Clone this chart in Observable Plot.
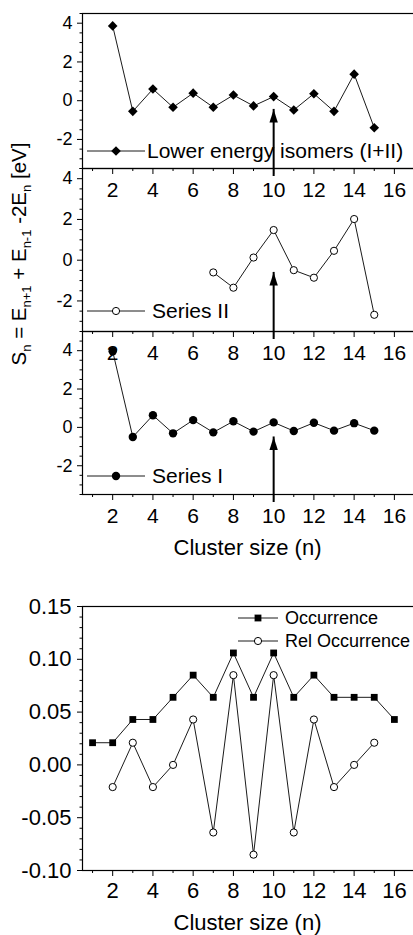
<!DOCTYPE html>
<html>
<head>
<meta charset="utf-8">
<script src="https://cdn.jsdelivr.net/npm/d3@7"></script>
<script src="https://cdn.jsdelivr.net/npm/@observablehq/plot@0.6"></script>
<style>
  html, body { margin: 0; padding: 0; background: #fff; overflow: hidden; }
  #root { position: relative; width: 413px; height: 935px; overflow: hidden;
          font-family: "Liberation Sans", Arial, sans-serif; color: #000; }
  .xtitle { position: absolute; left: 82px; width: 331px; text-align: center;
            font-size: 22px; line-height: 1; white-space: nowrap; }
  .ytitle { position: absolute; white-space: nowrap; font-size: 20.5px; line-height: 1;
            transform: translate(-50%, -50%) rotate(-90deg); }
  .ytitle sub { font-size: 13px; vertical-align: -5px; }
</style>
</head>
<body>
<div id="root"></div>
<script>
// ---------------- data ----------------
const nLower = [2, 3, 4, 5, 6, 7, 8, 9, 10, 11, 12, 13, 14, 15];
const lowerEnergy = [3.86, -0.55, 0.60, -0.34, 0.39, -0.34, 0.29, -0.27, 0.21, -0.48, 0.36, -0.55, 1.37, -1.40];

const nSeriesII = [7, 8, 9, 10, 11, 12, 13, 14, 15];
const seriesII = [-0.60, -1.35, 0.13, 1.48, -0.49, -0.86, 0.46, 2.02, -2.68];

const nSeriesI = [2, 3, 4, 5, 6, 7, 8, 9, 10, 11, 12, 13, 14, 15];
const seriesI = [3.97, -0.50, 0.63, -0.31, 0.38, -0.26, 0.32, -0.22, 0.26, -0.19, 0.24, -0.17, 0.22, -0.17];

const nOccurrence = [1, 2, 3, 4, 5, 6, 7, 8, 9, 10, 11, 12, 13, 14, 15, 16];
const occurrence = [0.021, 0.021, 0.043, 0.043, 0.064, 0.085, 0.064, 0.106, 0.064, 0.106, 0.064, 0.085, 0.064, 0.064, 0.064, 0.043];

const nRelOccurrence = [2, 3, 4, 5, 6, 7, 8, 9, 10, 11, 12, 13, 14, 15];
const relOccurrence = [-0.021, 0.021, -0.021, 0.000, 0.043, -0.064, 0.085, -0.085, 0.085, -0.064, 0.043, -0.021, 0.000, 0.021];

// magic-number arrow (n = 10) in each energy panel: tip value
const arrowN = 10;
const arrowTips = [-0.45, -0.6, -0.5];

// ticks
const xTicksMajor = [2, 4, 6, 8, 10, 12, 14, 16];
const xTicksMinor = [1, 3, 5, 7, 9, 11, 13, 15];
const sTicksMajor = [-2, 0, 2, 4];
const sTicksMinor = [-3.5, -3, -2.5, -1.5, -1, -0.5, 0.5, 1, 1.5, 2.5, 3, 3.5, 4.5];
const occTicksMajor = [-0.10, -0.05, 0.00, 0.05, 0.10, 0.15];
const occTicksMinor = [-0.09, -0.08, -0.07, -0.06, -0.04, -0.03, -0.02, -0.01, 0.01, 0.02, 0.03, 0.04,
                       0.06, 0.07, 0.08, 0.09, 0.11, 0.12, 0.13, 0.14];

const legendLower = "Lower energy isomers (I+II)";
const legendII = "Series II";
const legendI = "Series I";
const legendOcc = ["Occurrence", "Rel Occurrence"];
const xTitle = "Cluster size (n)";

// ---------------- symbols ----------------
const diamondSym = { draw(ctx) { const r = 4.8; ctx.moveTo(0, -r); ctx.lineTo(r, 0); ctx.lineTo(0, r); ctx.lineTo(-r, 0); ctx.closePath(); } };
const squareSym = { draw(ctx) { const s = 3.4; ctx.moveTo(-s, -s); ctx.lineTo(s, -s); ctx.lineTo(s, s); ctx.lineTo(-s, s); ctx.closePath(); } };
const arrowHeadSym = { draw(ctx) { ctx.moveTo(0, 0); ctx.lineTo(4.2, 13); ctx.lineTo(-4.2, 13); ctx.closePath(); } };

const FONT = '"Liberation Sans", Arial, sans-serif';
const root = document.getElementById("root");
const W = 414;

function place(el, top) {
  el.style.position = "absolute";
  el.style.left = "0px";
  el.style.top = top + "px";
  el.style.maxWidth = "none";
  el.style.background = "transparent";
  el.style.overflow = "visible";
  root.appendChild(el);
}

function addLegendEntry(svg, y, x0, x1, xm, xt, fontSize, kind, label) {
  const g = svg.append("g").attr("text-anchor", "start");
  g.append("line").attr("x1", x0).attr("x2", x1).attr("y1", y).attr("y2", y)
    .attr("stroke", "#000").attr("stroke-width", 0.9);
  if (kind === "diamond") {
    g.append("path").attr("d", d3.symbol(diamondSym)()).attr("transform", `translate(${xm},${y})`).attr("fill", "#000");
  } else if (kind === "square") {
    g.append("path").attr("d", d3.symbol(squareSym)()).attr("transform", `translate(${xm},${y})`).attr("fill", "#000");
  } else if (kind === "open") {
    g.append("circle").attr("cx", xm).attr("cy", y).attr("r", 3.6).attr("fill", "#fff").attr("stroke", "#000");
  } else {
    g.append("circle").attr("cx", xm).attr("cy", y).attr("r", 4.2).attr("fill", "#000");
  }
  g.append("text").attr("x", xt).attr("y", y).attr("dy", "0.35em").attr("text-anchor", "start")
    .attr("font-size", fontSize).attr("font-family", FONT).attr("fill", "#000").text(label);
}

function energyPanel({T, B, domain, n, v, kind, legend, tip, legendOffset}) {
  const mt = 12, mb = 40;
  const rows = n.map((d, i) => ({n: d, v: v[i]}));
  const arrow = [{n: arrowN, from: domain[0], to: tip}];
  let dotOpts;
  if (kind === "diamond") dotOpts = {symbol: diamondSym, fill: "#000", stroke: "none"};
  else if (kind === "open") dotOpts = {r: 3.6, fill: "#fff", stroke: "#000", strokeWidth: 1};
  else dotOpts = {r: 4.2, fill: "#000", stroke: "none"};
  const el = Plot.plot({
    width: W, height: (B - T) + mt + mb,
    marginLeft: 82, marginRight: 0, marginTop: mt, marginBottom: mb,
    style: {fontFamily: FONT, fontSize: "18px", background: "transparent", color: "#000"},
    x: {domain: [0.5, 17]},
    y: {domain},
    marks: [
      Plot.frame({stroke: "#000", strokeWidth: 1.2, insetRight: -6}),
      Plot.axisX({ticks: xTicksMinor, tickSize: 3, tickFormat: () => "", label: null}),
      Plot.axisX({ticks: xTicksMajor, tickSize: 6, tickPadding: 8, fontSize: 21, label: null}),
      Plot.axisY({ticks: sTicksMinor, tickSize: 2.5, tickFormat: () => "", label: null}),
      Plot.axisY({ticks: sTicksMajor, tickSize: 5, tickPadding: 5, fontSize: 18, label: null, tickFormat: d => String(d)}),
      Plot.ruleX(arrow, {x: "n", y1: "from", y2: "to", stroke: "#000", strokeWidth: 2, insetTop: 8}),
      Plot.dot(arrow, {x: "n", y: "to", symbol: arrowHeadSym, fill: "#000", stroke: "none"}),
      Plot.line(rows, {x: "n", y: "v", stroke: "#000", strokeWidth: 0.9}),
      Plot.dot(rows, {x: "n", y: "v", ...dotOpts})
    ]
  });
  place(el, T - mt);
  const svg = d3.select(el.tagName.toLowerCase() === "svg" ? el : el.querySelector("svg"));
  const yL = mt + (B - T) - legendOffset;
  addLegendEntry(svg, yL, 87, 145, 116, kind === "diamond" ? 147 : 152, 21, kind, legend);
}

energyPanel({T: 13, B: 168, domain: [-3.5, 4.5], n: nLower, v: lowerEnergy, kind: "diamond", legend: legendLower, tip: arrowTips[0], legendOffset: 17});
energyPanel({T: 168, B: 331, domain: [-3.5, 4.5], n: nSeriesII, v: seriesII, kind: "open", legend: legendII, tip: arrowTips[1], legendOffset: 20});
energyPanel({T: 331, B: 494, domain: [-3.5, 5], n: nSeriesI, v: seriesI, kind: "filled", legend: legendI, tip: arrowTips[2], legendOffset: 18});

// y title for stacked panels
const yt = document.createElement("div");
yt.className = "ytitle";
yt.style.left = "21px";
yt.style.top = "254px";
yt.innerHTML = "S<sub>n</sub> = E<sub>n+1</sub> + E<sub>n-1</sub> -2E<sub>n</sub> [eV]";
root.appendChild(yt);

// x title for stacked panels
const xt1 = document.createElement("div");
xt1.className = "xtitle";
xt1.style.top = "537px";
xt1.textContent = xTitle;
root.appendChild(xt1);

// ---------------- occurrence chart ----------------
{
  const T = 606, B = 870, mt = 14, mb = 40;
  const occRows = nOccurrence.map((d, i) => ({n: d, v: occurrence[i]}));
  const relRows = nRelOccurrence.map((d, i) => ({n: d, v: relOccurrence[i]}));
  const el = Plot.plot({
    width: W, height: (B - T) + mt + mb,
    marginLeft: 82, marginRight: 0, marginTop: mt, marginBottom: mb,
    style: {fontFamily: FONT, fontSize: "22px", background: "transparent", color: "#000"},
    x: {domain: [0.5, 17]},
    y: {domain: [-0.10, 0.15]},
    marks: [
      Plot.frame({stroke: "#000", strokeWidth: 1.2, insetRight: -6}),
      Plot.axisX({ticks: xTicksMinor, tickSize: 3, tickFormat: () => "", label: null}),
      Plot.axisX({ticks: xTicksMajor, tickSize: 6, tickPadding: 6, fontSize: 22, label: null}),
      Plot.axisY({ticks: occTicksMinor, tickSize: 2.5, tickFormat: () => "", label: null}),
      Plot.axisY({ticks: occTicksMajor, tickSize: 5, tickPadding: 6, fontSize: 22, label: null, tickFormat: d => d.toFixed(2)}),
      Plot.line(occRows, {x: "n", y: "v", stroke: "#000", strokeWidth: 0.9}),
      Plot.dot(occRows, {x: "n", y: "v", symbol: squareSym, fill: "#000", stroke: "none"}),
      Plot.line(relRows, {x: "n", y: "v", stroke: "#000", strokeWidth: 0.9}),
      Plot.dot(relRows, {x: "n", y: "v", r: 3.6, fill: "#fff", stroke: "#000", strokeWidth: 1})
    ]
  });
  place(el, T - mt);
  const svg = d3.select(el.tagName.toLowerCase() === "svg" ? el : el.querySelector("svg"));
  addLegendEntry(svg, 618 - (T - mt), 238, 278, 258, 285, 18, "square", legendOcc[0]);
  addLegendEntry(svg, 641 - (T - mt), 238, 278, 258, 285, 18, "open", legendOcc[1]);
}

const xt2 = document.createElement("div");
xt2.className = "xtitle";
xt2.style.top = "912px";
xt2.textContent = xTitle;
root.appendChild(xt2);
</script>
</body>
</html>
